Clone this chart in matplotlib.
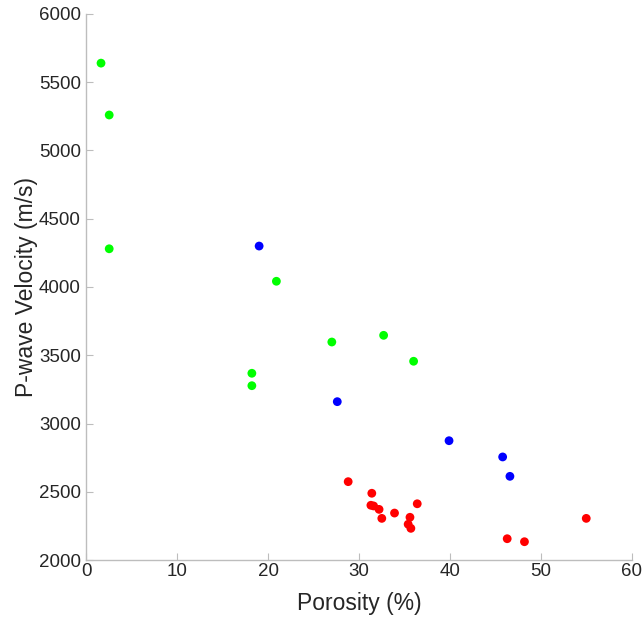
import matplotlib
matplotlib.use("Agg")
import matplotlib.pyplot as plt

plt.rcParams['font.family'] = ['Liberation Sans', 'DejaVu Sans']

# green group
por_g = [1.6, 2.5, 2.5, 20.9, 18.2, 18.2, 27.0, 32.7, 36.0]
vp_g = [5640, 5260, 4280, 4042, 3368, 3277, 3597, 3646, 3456]
# blue group
por_b = [19.0, 27.6, 39.9, 45.8, 46.6]
vp_b = [4300, 3160, 2874, 2755, 2613]
# red group
por_r = [28.8, 31.4, 31.3, 31.6, 32.2, 32.5, 33.9, 36.4, 35.6, 35.4, 35.7, 46.3, 48.2, 55.0]
vp_r = [2574, 2489, 2401, 2396, 2371, 2305, 2344, 2412, 2313, 2262, 2232, 2156, 2134, 2305]

xticks = [0, 10, 20, 30, 40, 50, 60]
yticks = [2000, 2500, 3000, 3500, 4000, 4500, 5000, 5500, 6000]

fig = plt.figure(figsize=(6.43, 6.19), dpi=100)
ax = fig.add_axes([0.1345, 0.0953, 0.8479, 0.8821])

ax.scatter(por_g, vp_g, s=40, color=(0, 1, 0), edgecolors='none', zorder=3)
ax.scatter(por_b, vp_b, s=40, color=(0, 0, 1), edgecolors='none', zorder=3)
ax.scatter(por_r, vp_r, s=40, color=(1, 0, 0), edgecolors='none', zorder=3)

ax.set_xlim(0, 60)
ax.set_ylim(2000, 6000)
ax.set_xticks(xticks)
ax.set_yticks(yticks)

for side in ['top', 'right']:
    ax.spines[side].set_visible(False)
for side in ['left', 'bottom']:
    ax.spines[side].set_color('#bdbdbd')
    ax.spines[side].set_linewidth(1.0)
ax.tick_params(direction='in', length=5, color='#bdbdbd', labelsize=13.5,
               labelcolor='#262626')
ax.tick_params(axis='x', pad=2)
ax.tick_params(axis='y', pad=4)

ax.set_xlabel('Porosity (%)', fontsize=16.5, color='#262626', labelpad=9)
ax.set_ylabel('P-wave Velocity (m/s)', fontsize=16.5, color='#262626', labelpad=1)

fig.savefig('out.png', dpi=100)
